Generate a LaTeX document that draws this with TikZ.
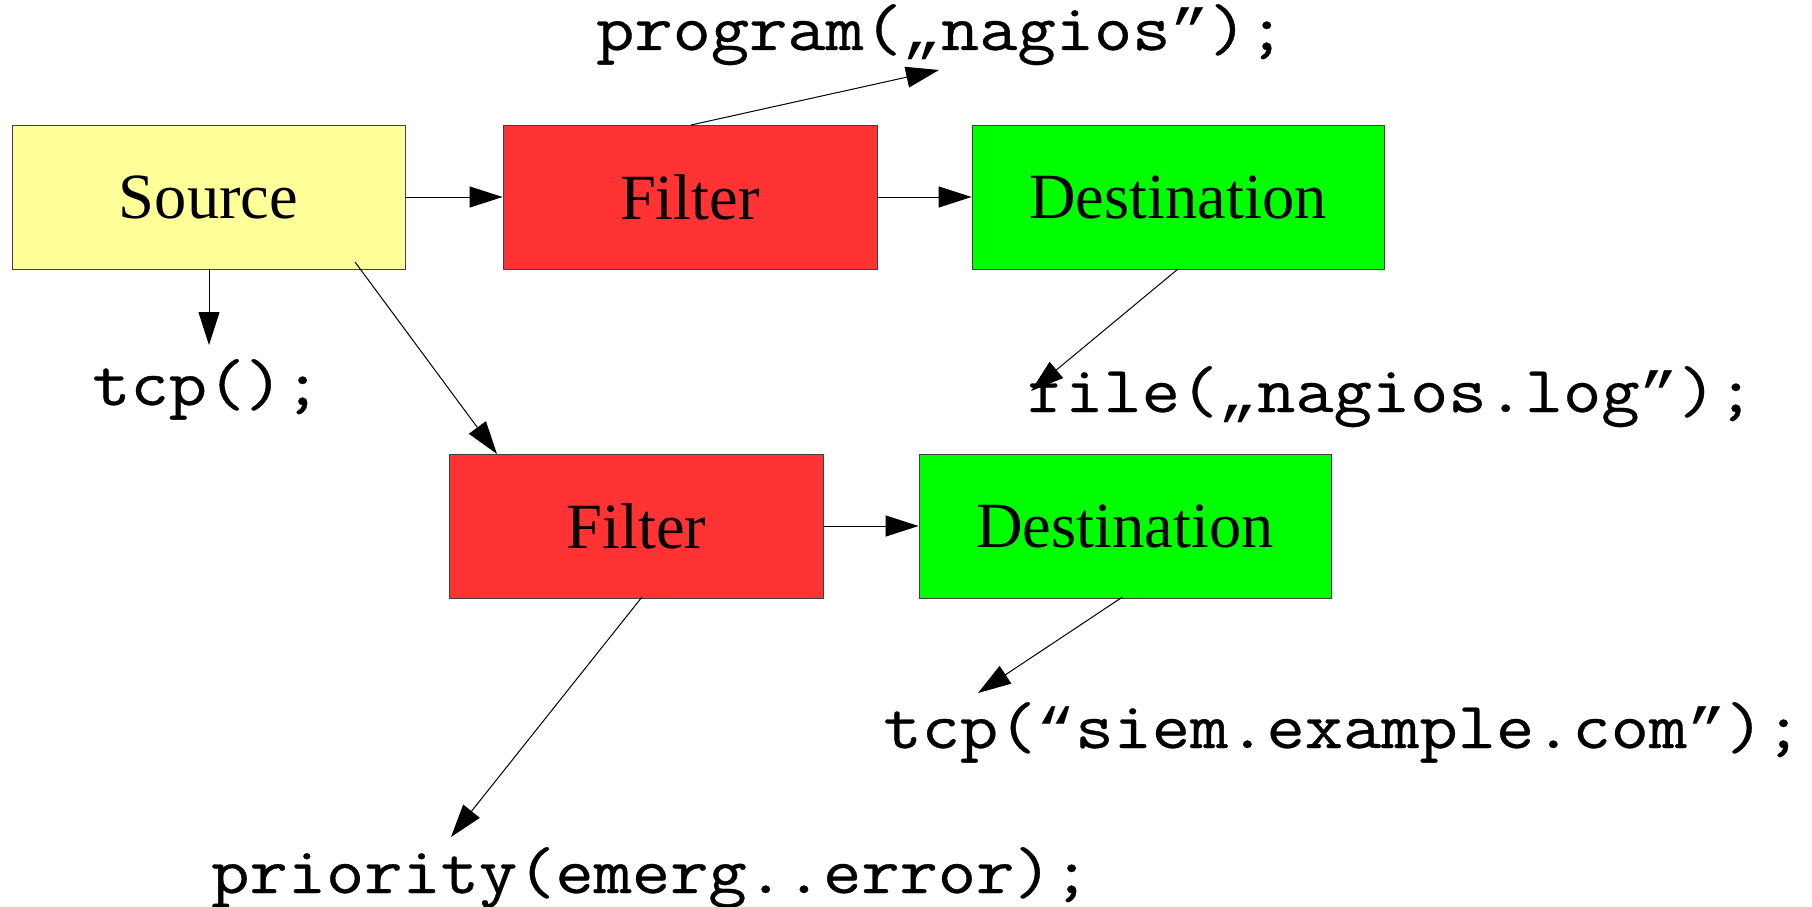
\documentclass[tikz,border=0pt]{standalone}
\usepackage{fontspec}
\usepackage{graphicx}
\setmainfont{Liberation Serif}
\newfontfamily\codefont[FakeBold=0.5]{Latin Modern Mono}
\newfontfamily\quotefont{Liberation Mono}
\usetikzlibrary{arrows.meta}
\definecolor{srcyellow}{HTML}{FFFF99}
\definecolor{filterred}{HTML}{FF3333}
\definecolor{destgreen}{HTML}{00FF00}
% code snippets: typewriter text, slightly widened; slanted quote glyphs
\newcommand{\snippet}[1]{\scalebox{1.125}[1]{#1}}
\newcommand{\qm}[1]{{\quotefont\fontsize{57.7}{57.7}\selectfont #1}}
\begin{document}
\begin{tikzpicture}[x=1pt,y=-1pt,
  box/.style={draw=black!75, line width=0.8pt, minimum height=144pt, inner sep=0pt,
    font=\fontsize{64.5}{64.5}\selectfont},
  srcbox/.style={box, fill=srcyellow, minimum width=393pt},
  filterbox/.style={box, fill=filterred, minimum width=374pt},
  destbox/.style={box, fill=destgreen, minimum width=412pt},
  code/.style={inner sep=0pt, anchor=base, font=\codefont\fontsize{66}{66}\selectfont},
  flow/.style={line width=1pt, -{Triangle[length=33pt,width=21pt]}}
]
\useasboundingbox (0,0) rectangle (1812,907);

% pipeline boxes
\node[srcbox]    (src) at (208.5,197) {Source};
\node[filterbox] (f1)  at (690,197)   {Filter};
\node[destbox]   (d1)  at (1178,197)  {Destination};
\node[filterbox] (f2)  at (636.5,526) {Filter};
\node[destbox]   (d2)  at (1125,526)  {Destination};

% configuration snippets
\node[code] (prog) at (941,50)   {\snippet{program(\qm{„}nagios\qm{”});}};
\node[code] (tcp)  at (207,405)  {\snippet{tcp();}};
\node[code] (file) at (1391,412) {\snippet{file(\qm{„}nagios.log\qm{”});}};
\node[code] (siem) at (1343,748) {\snippet{tcp(\qm{“}siem.example.com\qm{”});}};
\node[code] (prio) at (651,893)  {\snippet{priority(emerg..error);}};

% connector end points
\coordinate (srcdiag) at (355,262);
\coordinate (f2in)    at (497,454);
\coordinate (f1top)   at (691,125);
\coordinate (progtip) at (939,70);
\coordinate (tcptip)  at (209,345);
\coordinate (d1out)   at (1178,269);
\coordinate (filetip) at (1031,391);
\coordinate (f2out)   at (642,597);
\coordinate (priotip) at (451,837);
\coordinate (d2out)   at (1122.5,597);
\coordinate (siemtip) at (978,693);

% connectors
\draw[flow] (src.east) -- (f1.west);
\draw[flow] (f1.east) -- (d1.west);
\draw[flow] (f2.east |- f2.center) -- (d2.west);
\draw[flow] (src.south -| tcptip) -- (tcptip);
\draw[flow] (srcdiag) -- (f2in);
\draw[flow] (f1top) -- (progtip);
\draw[flow] (d1out) -- (filetip);
\draw[flow] (f2out) -- (priotip);
\draw[flow] (d2out) -- (siemtip);
\end{tikzpicture}
\end{document}
